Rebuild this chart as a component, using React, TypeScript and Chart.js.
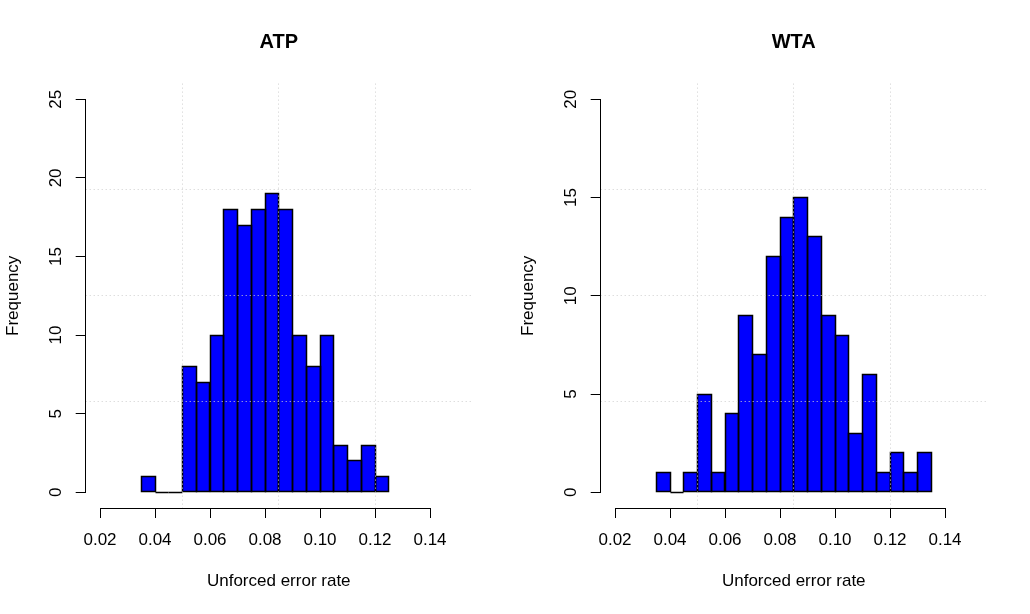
import React, { useEffect, useRef } from "react";
import { Chart, registerables } from "chart.js";

Chart.register(...registerables);

// ---------- data ----------
const atpBreaks = [
  0.035, 0.04, 0.045, 0.05, 0.055, 0.06, 0.065, 0.07, 0.075, 0.08, 0.085,
  0.09, 0.095, 0.1, 0.105, 0.11, 0.115, 0.12, 0.125,
];
const atpCounts = [1, 0, 0, 8, 7, 10, 18, 17, 18, 19, 18, 10, 8, 10, 3, 2, 3, 1];

const wtaBreaks = [
  0.035, 0.04, 0.045, 0.05, 0.055, 0.06, 0.065, 0.07, 0.075, 0.08, 0.085,
  0.09, 0.095, 0.1, 0.105, 0.11, 0.115, 0.12, 0.125, 0.13, 0.135,
];
const wtaCounts = [1, 0, 1, 5, 1, 4, 9, 7, 12, 14, 15, 13, 9, 8, 3, 6, 1, 2, 1, 2];

const xTicks = [0.02, 0.04, 0.06, 0.08, 0.1, 0.12, 0.14];
const xLimits = [0.02, 0.15];
const atpYTicks = [0, 5, 10, 15, 20, 25];
const wtaYTicks = [0, 5, 10, 15, 20];
const atpYLimits = [0, 25];
const wtaYLimits = [0, 20];
const panelTitles = ["ATP", "WTA"];
const xAxisTitle = "Unforced error rate";
const yAxisTitle = "Frequency";

// ---------- layout / style ----------
const PANEL_W = 515;
const PANEL_H = 614;
const PLOT = { left: 85.7, right: 471.8, top: 83.6, bottom: 508 };
const FONT = "'Liberation Sans', Arial, Helvetica, sans-serif";
const BAR_FILL = "#0000ff";
const GRID_COLOR = "#cfcfcf";
const OUTLINE_WIDTH = 1.5;

const ext = (lim: number[]) => {
  const d = (lim[1] - lim[0]) * 0.04;
  return [lim[0] - d, lim[1] + d];
};

const align = (p: number) => Math.round(p - 0.5) + 0.5;

function makeRPlugin(yTicks: number[]) {
  return {
    id: "rStyle",
    afterDatasetsDraw(chart: any) {
      const { ctx, chartArea: a } = chart;
      // bar outlines (R rect borders), from the bar elements' geometry
      const meta = chart.getDatasetMeta(0);
      ctx.save();
      ctx.strokeStyle = "#000";
      ctx.lineWidth = OUTLINE_WIDTH;
      ctx.setLineDash([]);
      meta.data.forEach((el: any) => {
        const p = el.getProps(["x", "y", "base", "width"], true);
        const l = align(p.x - p.width / 2);
        const r = align(p.x + p.width / 2);
        const t = align(Math.min(p.y, p.base));
        const b = align(Math.max(p.y, p.base));
        ctx.beginPath();
        ctx.rect(l, t, r - l, b - t);
        ctx.stroke();
      });
      ctx.restore();

      // dotted grid (R grid() over the plot)
      ctx.save();
      ctx.strokeStyle = GRID_COLOR;
      ctx.lineWidth = 1;
      ctx.setLineDash([1, 3]);
      for (let k = 1; k <= 3; k++) {
        const x = align(a.left + ((a.right - a.left) * k) / 4);
        ctx.beginPath();
        ctx.moveTo(x, a.top);
        ctx.lineTo(x, a.bottom);
        ctx.stroke();
        const y = align(a.top + ((a.bottom - a.top) * k) / 4);
        ctx.beginPath();
        ctx.moveTo(a.left, y);
        ctx.lineTo(a.right, y);
        ctx.stroke();
      }
      ctx.restore();
    },
    afterDraw(chart: any) {
      const { ctx, chartArea: a, scales } = chart;
      const xs = scales.x;
      const ys = scales.y;
      ctx.save();
      ctx.strokeStyle = "#000";
      ctx.lineWidth = 1;
      ctx.setLineDash([]);
      const yb = align(a.bottom);
      ctx.beginPath();
      ctx.moveTo(align(xs.getPixelForValue(xTicks[0])), yb);
      ctx.lineTo(align(xs.getPixelForValue(xTicks[xTicks.length - 1])), yb);
      ctx.stroke();
      const xl = align(a.left);
      ctx.beginPath();
      ctx.moveTo(xl, align(ys.getPixelForValue(yTicks[0])));
      ctx.lineTo(xl, align(ys.getPixelForValue(yTicks[yTicks.length - 1])));
      ctx.stroke();
      ctx.restore();
    },
  };
}

type HistProps = {
  title: string;
  breaks: number[];
  counts: number[];
  yTicks: number[];
  yLimits: number[];
  left: number;
};

function Histogram({ title, breaks, counts, yTicks, yLimits, left }: HistProps) {
  const ref = useRef<HTMLCanvasElement>(null);

  useEffect(() => {
    if (!ref.current) return;
    const mids = counts.map((_, i) => (breaks[i] + breaks[i + 1]) / 2);
    const barData = counts.map((c, i) => ({ x: mids[i], y: c }));
    const xr = ext(xLimits);
    const yr = ext(yLimits);

    const chart = new Chart(ref.current, {
      type: "bar",
      data: {
        datasets: [
          {
            type: "bar",
            data: barData as any,
            backgroundColor: BAR_FILL,
            borderWidth: 0,
            borderSkipped: false,
            inflateAmount: 0,
            barPercentage: 1,
            categoryPercentage: 1,
          } as any,
        ],
      },
      options: {
        animation: false,
        responsive: false,
        devicePixelRatio: 1,
        events: [],
        layout: {
          padding: { left: 0, right: PANEL_W - PLOT.right, top: 0, bottom: 0 },
        },
        plugins: {
          legend: { display: false },
          tooltip: { enabled: false },
          title: {
            display: true,
            text: title,
            color: "#000",
            fullSize: false,
            font: { family: FONT, size: 20, weight: "bold" },
            padding: { top: 30.2, bottom: 29.4 },
          },
        },
        scales: {
          x: {
            type: "linear",
            min: xr[0],
            max: xr[1],
            offset: false,
            afterBuildTicks: (s: any) => {
              s.ticks = xTicks.map((v) => ({ value: v }));
            },
            afterFit: (s: any) => {
              s.height = PANEL_H - PLOT.bottom;
            },
            border: { display: false },
            grid: {
              display: true,
              offset: false,
              drawOnChartArea: false,
              drawTicks: true,
              tickLength: 10,
              color: "#000",
              lineWidth: 1,
            },
            ticks: {
              autoSkip: false,
              maxRotation: 0,
              minRotation: 0,
              padding: 12.6,
              color: "#000",
              font: { family: FONT, size: 17 },
              callback: (v: any) => Number(v).toFixed(2),
            },
            title: {
              display: true,
              text: xAxisTitle,
              color: "#000",
              font: { family: FONT, size: 17 },
              padding: { top: 0, bottom: 22.5 },
            },
          },
          y: {
            type: "linear",
            min: yr[0],
            max: yr[1],
            afterBuildTicks: (s: any) => {
              s.ticks = yTicks.map((v) => ({ value: v }));
            },
            afterFit: (s: any) => {
              s.width = PLOT.left;
            },
            border: { display: false },
            grid: {
              display: true,
              offset: false,
              drawOnChartArea: false,
              drawTicks: true,
              tickLength: 10,
              color: "#000",
              lineWidth: 1,
            },
            ticks: {
              autoSkip: false,
              minRotation: 90,
              maxRotation: 90,
              crossAlign: "center",
              padding: 10,
              color: "#000",
              font: { family: FONT, size: 17 },
              callback: (v: any) => String(v),
            },
            title: {
              display: true,
              text: yAxisTitle,
              color: "#000",
              font: { family: FONT, size: 17 },
              padding: { top: 3.1, bottom: 0 },
            },
          },
        },
      } as any,
      plugins: [makeRPlugin(yTicks)],
    });
    return () => chart.destroy();
  }, [title, breaks, counts, yTicks, yLimits]);

  return (
    <div style={{ position: "absolute", left, top: 0, width: PANEL_W, height: PANEL_H }}>
      <canvas ref={ref} width={PANEL_W} height={PANEL_H} style={{ display: "block" }} />
    </div>
  );
}

export default function App() {
  return (
    <div
      style={{
        position: "fixed",
        left: 0,
        top: 0,
        width: PANEL_W * 2,
        height: PANEL_H,
        background: "#fff",
        overflow: "hidden",
      }}
    >
      <Histogram
        title={panelTitles[0]}
        breaks={atpBreaks}
        counts={atpCounts}
        yTicks={atpYTicks}
        yLimits={atpYLimits}
        left={0}
      />
      <Histogram
        title={panelTitles[1]}
        breaks={wtaBreaks}
        counts={wtaCounts}
        yTicks={wtaYTicks}
        yLimits={wtaYLimits}
        left={PANEL_W}
      />
    </div>
  );
}
